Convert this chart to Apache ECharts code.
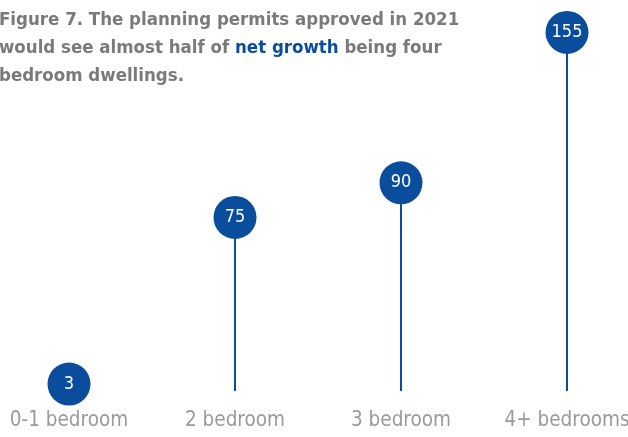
<!DOCTYPE html>
<html>
<head>
<meta charset="utf-8">
<style>
  html, body { margin: 0; padding: 0; background: #fff; }
  #chart { width: 628px; height: 437px; }
</style>
<script src="https://cdn.jsdelivr.net/npm/echarts@6/dist/echarts.min.js"></script>
</head>
<body>
<div id="chart"></div>
<script>
const categories = ['0-1 bedroom', '2 bedroom', '3 bedroom', '4+ bedrooms']
const values = [3, 75, 90, 155]

const blue = '#0b4d9d'
const narrow = '"DejaVu Sans Condensed", "Liberation Sans Narrow", sans-serif'

const chart = echarts.init(document.getElementById('chart'))
const opt = {
  animation: false,
  title: {
    left: -6,
    top: 1,
    text: 'Figure 7. The planning permits approved in 2021\nwould see almost half of {b|net growth} being four\nbedroom dwellings.',
    textStyle: {
      fontFamily: narrow,
      fontSize: 18.5,
      fontWeight: 'bold',
      color: '#7a7a7a',
      lineHeight: 28,
      rich: {
        b: {
          fontFamily: narrow,
          fontSize: 18.5,
          fontWeight: 'bold',
          color: blue,
          lineHeight: 28
        }
      }
    }
  },
  grid: {
    left: 69,
    right: 61,
    top: 0,
    bottom: 46,
    outerBoundsMode: 'none'
  },
  xAxis: {
    type: 'category',
    boundaryGap: false,
    data: categories,
    axisLine: { show: false },
    axisTick: { show: false },
    axisLabel: {
      interval: 0,
      margin: 19,
      fontFamily: narrow,
      fontSize: 20.5,
      color: '#9a9a9a'
    }
  },
  yAxis: {
    type: 'value',
    min: 0,
    max: 169,
    show: false
  },
  series: [
    {
      // stems
      type: 'bar',
      data: values,
      barWidth: 2,
      itemStyle: { color: blue },
      z: 1
    },
    {
      // heads
      type: 'scatter',
      data: values,
      symbol: 'circle',
      symbolSize: 43,
      itemStyle: { color: blue, opacity: 1 },
      label: {
        show: true,
        position: 'inside',
        fontFamily: narrow,
        fontSize: 18,
        color: '#fff'
      },
      z: 2
    }
  ]
}
chart.setOption(opt)
</script>
</body>
</html>
